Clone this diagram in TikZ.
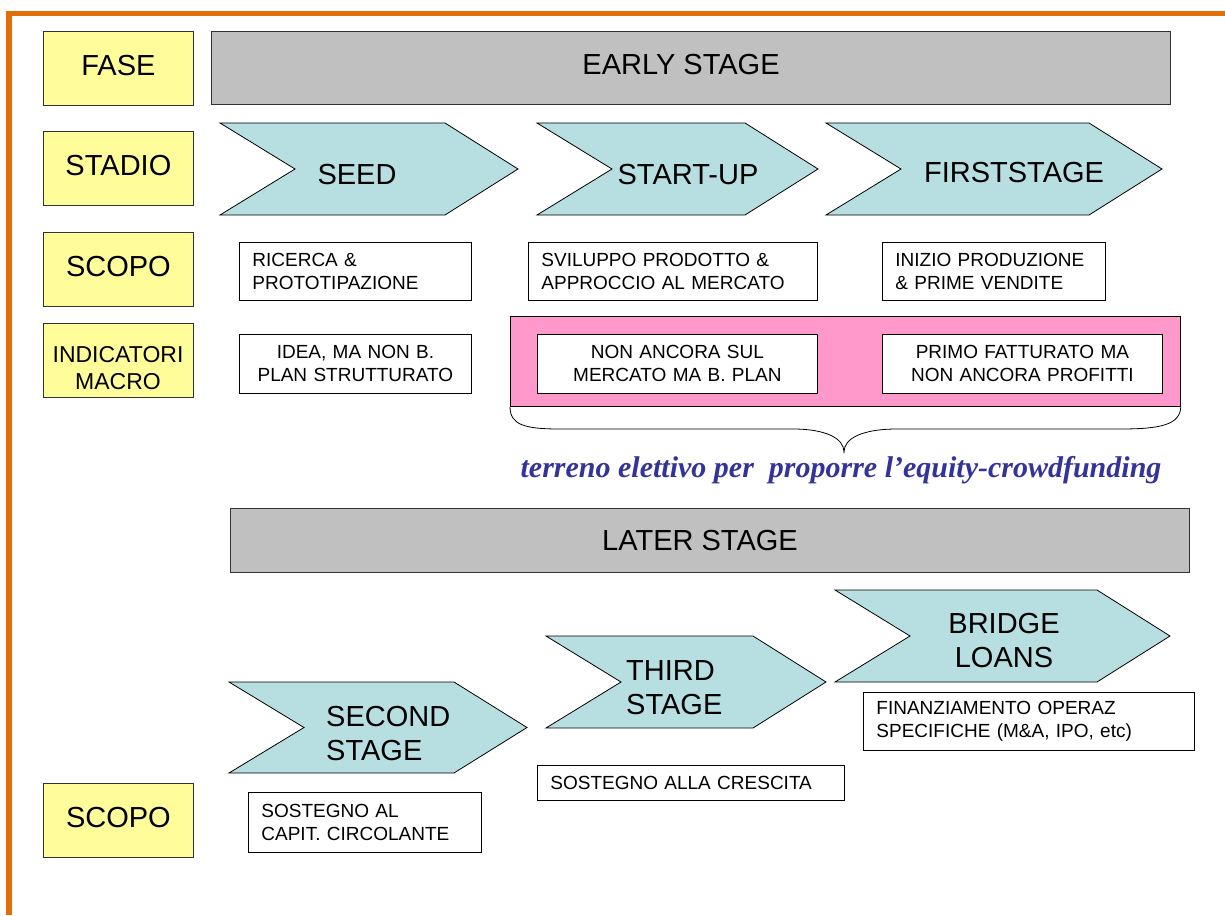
\documentclass[tikz,border=0pt]{standalone}
\usepackage{fontspec}
\setmainfont{Liberation Sans}
\newfontfamily\serifit{Liberation Serif}
\definecolor{lemon}{RGB}{255,253,153}
\definecolor{ashgray}{RGB}{192,192,192}
\definecolor{chevfill}{RGB}{183,222,224}
\definecolor{rosefill}{RGB}{255,153,204}
\definecolor{framecol}{RGB}{226,110,8}
\definecolor{inkblue}{RGB}{51,51,153}

% chevron: left x, tip x, top y, bottom y
\newcommand\chevshape[4]{%
  \path[chev] (#1,#3) -- ({#2-73},#3) -- (#2,{(#3+#4)/2}) -- ({#2-73},#4)
    -- (#1,#4) -- ({#1+75},{(#3+#4)/2}) -- cycle;}

\begin{document}
\begin{tikzpicture}[x=1pt,y=-1pt,
  label/.style={draw=black!80, fill=lemon, anchor=north west, minimum width=150,
    minimum height=74, inner sep=0, line width=0.8, text depth=7pt,
    font=\fontsize{29}{34}\selectfont},
  band/.style={draw=black!80, fill=ashgray, anchor=north west, inner sep=0,
    line width=0.8},
  bandtext/.style={inner sep=0, font=\fontsize{29}{34}\selectfont},
  note/.style={draw=black, fill=white, anchor=north west, inner sep=0,
    line width=0.8, font=\fontsize{19}{23}\selectfont},
  lnote/.style={note, align=left, inner xsep=13},
  cnote/.style={note, align=center},
  chev/.style={draw=black, fill=chevfill, line width=0.8, line join=miter},
  chevtext/.style={inner sep=0, font=\fontsize{29}{34}\selectfont},
]
\useasboundingbox (0,0) rectangle (1225,915);

% page frame
\draw[framecol, line width=5.5] (6,13.5) -- (1225,13.5);
\draw[framecol, line width=6] (9,11) -- (9,915);

% row labels
\node[label] (fase)   at (43,31)  {FASE};
\node[label] (stadio) at (43,131) {STADIO};
\node[label] (scopo)  at (43,232) {SCOPO};
\node[label, text depth=0pt] (macro) at (43,323) {};
\node[inner sep=0, align=center, font=\fontsize{23}{27}\selectfont] (macrotext)
  at (118,368) {INDICATORI\\MACRO};
\node[label] (scopob) at (43,783) {SCOPO};

% early stage
\node[band, minimum width=959, minimum height=73] (early) at (211,31) {};
\node[bandtext] (earlytext) at (681,65) {EARLY STAGE};

\chevshape{220}{518}{123}{215}
\chevshape{537}{818}{123}{215}
\chevshape{826}{1162}{123}{215}
\node[chevtext] (seed)  at (357,175)  {SEED};
\node[chevtext] (start) at (688,175)  {START-UP};
\node[chevtext] (first) at (1014,173) {FIRSTSTAGE};

\node[lnote, minimum width=232, minimum height=58, text width=206] (ricerca) at (239,242)
  {RICERCA \&\\PROTOTIPAZIONE};
\node[lnote, minimum width=289, minimum height=58, text width=263] (sviluppo) at (528,242)
  {SVILUPPO PRODOTTO \&\\APPROCCIO AL MERCATO};
\node[lnote, minimum width=223, minimum height=58, text width=197] (inizio) at (882,242)
  {INIZIO PRODUZIONE\\\& PRIME VENDITE};

\node[draw=black, fill=rosefill, anchor=north west, minimum width=670, minimum height=90,
  inner sep=0, line width=0.8] (pink) at (510,316) {};

\node[cnote, minimum width=232, minimum height=59, text width=226] (idea) at (239,334)
  {IDEA, MA NON B.\\PLAN STRUTTURATO};
\node[cnote, minimum width=280, minimum height=59, text width=274] (nonancora) at (537,334)
  {NON ANCORA SUL\\MERCATO MA B. PLAN};
\node[cnote, minimum width=280, minimum height=59, text width=274] (primo) at (882,334)
  {PRIMO FATTURATO MA\\NON ANCORA PROFITTI};

% brace under the highlighted indicators
\coordinate (btip) at (844,452);
\draw[line width=0.8] (pink.south west)
  .. controls (510,425) and (525,429) .. (560,429) -- (793,429)
  .. controls (825,429) and (844,438) .. (btip)
  .. controls (844,438) and (863,429) .. (897,429) -- (1120,429)
  .. controls (1160,429) and (1180,425) .. (pink.south east);

\node[inner sep=0, anchor=base, text=inkblue,
  font=\serifit\bfseries\itshape\fontsize{30}{34}\selectfont]
  (slogan) at (841,477) {terreno elettivo per\ \ proporre l’equity-crowdfunding};

% later stage
\node[band, minimum width=959, minimum height=64] (later) at (230,508) {};
\node[bandtext] (latertext) at (700,541) {LATER STAGE};

\chevshape{229}{527}{682}{773}
\chevshape{546}{826}{636}{728}
\chevshape{835}{1170}{590}{682}
\node[chevtext, anchor=west, align=left] (second) at (326,734) {SECOND\\STAGE};
\node[chevtext, anchor=west, align=left] (third)  at (626,688) {THIRD\\STAGE};
\node[chevtext, align=center] (bridge) at (1004,641) {BRIDGE\\LOANS};

\node[lnote, minimum width=233, minimum height=60, text width=207] (capit) at (248,792)
  {SOSTEGNO AL\\CAPIT. CIRCOLANTE};
\node[lnote, minimum width=307, minimum height=35, text width=281] (crescita) at (537,765)
  {SOSTEGNO ALLA CRESCITA};
\node[lnote, minimum width=331, minimum height=58, text width=305] (finanz) at (863,692)
  {FINANZIAMENTO OPERAZ\\SPECIFICHE (M\&A, IPO, etc)};
\end{tikzpicture}
\end{document}
